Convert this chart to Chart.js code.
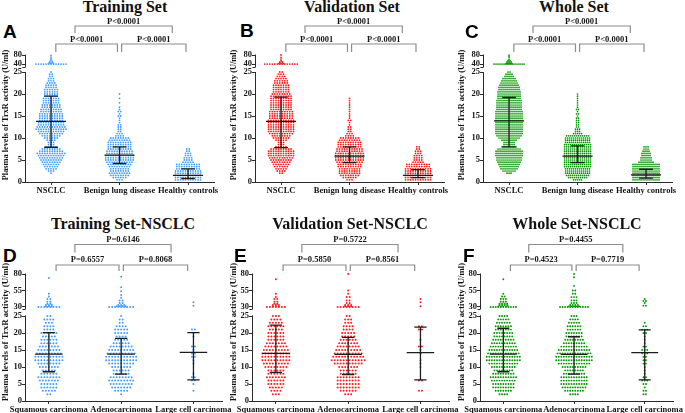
<!DOCTYPE html>
<html><head><meta charset="utf-8">
<script src="https://cdn.jsdelivr.net/npm/chart.js@4.4.1/dist/chart.umd.min.js"></script>
<style>
html,body{margin:0;padding:0;background:#fff;}
#wrap{position:relative;width:685px;height:413px;overflow:hidden;background:#fff;}
#wrap canvas{position:absolute;}
.ttl{position:absolute;font-family:"Liberation Serif",serif;font-weight:bold;font-size:16px;line-height:16px;white-space:nowrap;transform:translateX(-50%);color:#111;}
.ltr{position:absolute;font-family:"Liberation Sans",Arial,sans-serif;font-weight:bold;font-size:19px;line-height:19px;color:#000;}
</style></head>
<body><div id="wrap"></div>
<script>
// ---------------- DATA ----------------
const topCategories = ['NSCLC', 'Benign lung disease', 'Healthy controls'];
const bottomCategories = ['Squamous carcinoma', 'Adenocarcinoma', 'Large cell carcinoma'];
const topTickLabels = [0, 5, 10, 15, 20, 25, 40, 80];
const bottomTickLabels = [0, 5, 10, 15, 20, 25, 30, 55, 80];
const yAxisTitle = 'Plasma levels of TrxR activity (U/ml)';

// counts of dots per 0.5 U/ml row, starting at 0.5 (top panels)
const trainNSCLC = [0,0,0,1,3,5,6,7,8,9,10,11,12,10,8,5,3,3,4,6,8,10,11,13,12,11,11,10,10,10,10,9,9,8,8,7,7,7,6,6,6,6,5,5,4,3,3,2,2,1];
const trainNSCLCHigh = [[40,13],[43,3],[47,2],[52,2],[58,1],[63,1],[70,1],[78,1]];
const trainBenign = [3,6,8,9,8,8,9,10,11,12,12,12,11,11,10,10,10,10,9,8,4,3,2,2,2,2,1,1,1,2,1,2,1,1,0,1,0,1,0,1];
const trainHealthy = [11,11,11,11,11,10,10,10,5,4,4,3,3,2,2];

const validNSCLC = [0,0,0,2,4,5,6,7,8,9,10,11,11,11,9,5,3,3,5,7,8,10,11,11,11,11,11,11,10,10,10,10,9,9,9,9,9,9,9,8,7,7,7,7,6,6,5,4,3,2];
const validNSCLCHigh = [[40,14],[42,3],[46,2],[50,2],[55,1],[62,1],[70,1],[80,1]];
const validBenign = [3,6,8,9,9,9,10,10,11,12,12,12,12,11,11,10,10,10,9,8,4,3,2,2,2,1,1,2,1,1,1,1,1,1,1,1,1,1];
const validHealthy = [11,11,11,11,11,11,10,10,5,4,4,4,3,3,2,2];

const wholeNSCLC = [0,0,0,3,7,9,10,11,12,13,13,14,14,14,12,8,6,6,8,11,13,14,14,14,14,14,14,14,14,14,14,14,13,13,13,13,13,12,12,12,12,11,11,10,9,8,7,5,4,2];
const wholeNSCLCHigh = [[40,16],[42,4],[45,3],[50,3],[55,2],[60,1],[68,1],[75,1],[80,1]];
const wholeBenign = [5,10,12,13,13,13,14,14,14,14,14,14,14,14,14,14,14,13,13,13,12,5,3,3,2,2,2,2,2,1,2,1,2,1,1,1,1,1,1,1];
const wholeHealthy = [14,14,14,14,14,14,14,14,8,6,6,5,5,4,3,3];

// counts of dots per 1 U/ml row, starting at 1 (bottom panels)
const trainSq = [0,2,5,6,6,7,8,6,5,7,8,10,10,9,8,7,6,6,5,6,4,4,3,4,2];
const trainSqHigh = [[30,8],[31,3],[33,3],[35,2],[38,2],[42,2],[46,1],[50,1],[74,1]];
const trainAd = [0,1,5,7,8,9,8,6,6,7,9,11,11,10,9,8,6,5,4,5,5,4,2,2,1];
const trainAdHigh = [[30,9],[31,4],[33,3],[36,2],[40,2],[44,1],[48,1],[54,1],[60,1],[76,1]];
const trainLc = [0,0,1,0,1,2,2,1,0,0,1,1,2,2,1,2,0,0,1,1,2];
const trainLcHigh = [[32,1],[37,1]];

const validSq = [0,3,4,5,6,6,7,6,6,8,9,10,10,10,9,8,7,6,6,6,5,6,5,4,3];
const validSqHigh = [[30,7],[31,3],[33,3],[35,2],[38,2],[42,2],[45,1],[50,1],[72,1]];
const validAd = [0,3,6,8,8,8,8,6,6,7,10,12,11,10,9,8,7,6,5,5,4,4,3,3,2];
const validAdHigh = [[30,8],[31,3],[33,3],[36,2],[40,2],[45,2],[50,1],[55,1],[80,1]];
const validLc = [0,0,2,0,0,2,0,0,0,1,1,1,0,1,1,2,0,1,0,0,2,2];
const validLcHigh = [[31,1],[37,1],[42,1]];

const wholeSq = [0,4,7,9,9,10,11,9,8,10,12,14,14,13,12,11,10,9,8,8,7,7,6,5,4];
const wholeSqHigh = [[30,11],[31,5],[33,4],[35,4],[38,3],[42,3],[46,2],[50,1],[72,1]];
const wholeAd = [0,4,8,10,11,11,11,9,8,10,13,15,15,14,13,11,9,8,7,7,6,6,5,4,3];
const wholeAdHigh = [[30,12],[31,5],[33,4],[36,3],[40,3],[45,3],[50,2],[55,2],[62,1],[75,1],[80,1]];
const wholeLc = [0,2,2,1,2,3,2,1,1,1,2,2,2,3,3,2,1,1,1,2,3,2,1];
const wholeLcHigh = [[32,2],[36,1],[39,2],[42,1]];

// [mean, lower bar, upper bar]
const trainStats = [[13.8,7.9,19.5],[6.1,4.2,8.0],[1.5,0.8,3.0]];
const validStats = [[13.8,7.8,19.3],[5.9,4.4,8.0],[1.5,1.0,2.8]];
const wholeStats = [[13.9,8.0,19.2],[5.9,4.4,8.2],[1.6,0.9,2.9]];
const trainNscStats = [[13.8,8.6,20.1],[13.8,7.9,18.4],[14.3,6.2,20.1]];
const validNscStats = [[14.0,8.4,22.3],[13.7,7.8,18.7],[14.2,6.2,21.7]];
const wholeNscStats = [[13.8,8.6,21.4],[13.7,7.9,18.9],[14.2,6.2,20.9]];

// P values: [outer, left pair, right pair]
const trainP = ['P<0.0001','P<0.0001','P<0.0001'];
const validP = ['P<0.0001','P<0.0001','P<0.0001'];
const wholeP = ['P<0.0001','P<0.0001','P<0.0001'];
const trainNscP = ['P=0.6146','P=0.6557','P=0.8068'];
const validNscP = ['P=0.5722','P=0.5850','P=0.8561'];
const wholeNscP = ['P=0.4455','P=0.4523','P=0.7719'];

// ---------------- LAYOUT ----------------
const BLUE = 'rgb(66,157,255)', RED = 'rgb(255,28,28)', GREEN = 'rgb(0,150,0)';
const AXIS = '#2a2a2a', TEXT = '#141414', BRK = '#8c8c8c';
const mapTop = v => v <= 25 ? v : 26.8 + (v - 40) * 0.0515;
const mapBottom = v => v <= 25 ? v : 27.65 + (v - 30) * 0.194;

const ROWS = {
  top: {canvasTop: 0, H: 205, zeroY: 182, ppu: 4.4, yMax: 29.5, xMin: -0.38, xMax: 2.38, catPx: 68.5,
        ticks: topTickLabels, cats: topCategories, map: mapTop, lowerTop: 25, upperBottom: 26.1, upperTopV: 80,
        start: 0.5, step: 0.5, meanHalf: 0.22, capHalf: 0.1, yTitleY: 115, yTitleSize: 8.3,
        brackets: [{a:0.35,b:1.77,y:26,d:7,ly:21.5},{a:0.07,b:0.97,y:44,d:8,ly:40},{a:1.03,b:1.97,y:44,d:8,ly:40}]},
  bottom: {canvasTop: 200, H: 213, zeroY: 201, ppu: 3.4, yMax: 37.8, xMin: -0.33, xMax: 2.4, catPx: 72.3,
        ticks: bottomTickLabels, cats: bottomCategories, map: mapBottom, lowerTop: 25.2, upperBottom: 27.0, upperTopV: 80,
        start: 1, step: 1, meanHalf: 0.19, capHalf: 0.085, yTitleY: 132, yTitleSize: 8.8,
        brackets: [{a:0.36,b:1.69,y:44.5,d:8,ly:40},{a:0.1,b:0.97,y:65,d:6,ly:59.5},{a:1.03,b:1.92,y:65,d:6,ly:59.5}]}
};

const panels = [
  {letter:'A', lx:3, ly:22, title:'Training Set', tx:125, row:'top', left:0, W:240, axisX:25, color:BLUE, dx:2.5, r:0.9,
   groups:[[trainNSCLC,trainNSCLCHigh],[trainBenign,[]],[trainHealthy,[]]], stats:trainStats, p:trainP},
  {letter:'B', lx:240, ly:21, title:'Validation Set', tx:352, row:'top', left:228, W:240, axisX:255, color:RED, dx:2.5, r:0.9,
   groups:[[validNSCLC,validNSCLCHigh],[validBenign,[]],[validHealthy,[]]], stats:validStats, p:validP},
  {letter:'C', lx:465, ly:22, title:'Whole Set', tx:574, row:'top', left:456, W:229, axisX:483, color:GREEN, dx:2.0, r:0.85,
   groups:[[wholeNSCLC,wholeNSCLCHigh],[wholeBenign,[]],[wholeHealthy,[]]], stats:wholeStats, p:wholeP},
  {letter:'D', lx:3, ly:246, title:'Training Set-NSCLC', tx:123, row:'bottom', left:0, W:240, axisX:25, color:BLUE, dx:3.0, r:1.0,
   groups:[[trainSq,trainSqHigh],[trainAd,trainAdHigh],[trainLc,trainLcHigh]], stats:trainNscStats, p:trainNscP},
  {letter:'E', lx:234, ly:246, title:'Validation Set-NSCLC', tx:350, row:'bottom', left:228, W:240, axisX:252, color:RED, dx:3.0, r:1.0,
   groups:[[validSq,validSqHigh],[validAd,validAdHigh],[validLc,validLcHigh]], stats:validNscStats, p:validNscP},
  {letter:'F', lx:463, ly:246, title:'Whole Set-NSCLC', tx:577, row:'bottom', left:456, W:229, axisX:480, color:GREEN, dx:2.6, r:0.95,
   groups:[[wholeSq,wholeSqHigh],[wholeAd,wholeAdHigh],[wholeLc,wholeLcHigh]], stats:wholeNscStats, p:wholeNscP}
];

const wrap = document.getElementById('wrap');

function buildDots(p, row) {
  const dxU = p.dx / row.catPx, pts = [];
  p.groups.forEach(([counts, high], c) => {
    const add = (v, n) => { for (let i = 0; i < n; i++) pts.push({x: c + (i - (n - 1) / 2) * dxU, y: row.map(v)}); };
    counts.forEach((n, i) => { if (n > 0) add(row.start + i * row.step, n); });
    high.forEach(([v, n]) => add(v, n));
  });
  return pts;
}
function buildBars(p, row) {
  const pts = [];
  p.stats.forEach(([m, lo, hi], c) => {
    pts.push({x:c-row.meanHalf,y:row.map(m)},{x:c+row.meanHalf,y:row.map(m)},{x:c,y:null});
    pts.push({x:c,y:row.map(lo)},{x:c,y:row.map(hi)},{x:c,y:null});
    pts.push({x:c-row.capHalf,y:row.map(hi)},{x:c+row.capHalf,y:row.map(hi)},{x:c,y:null});
    pts.push({x:c-row.capHalf,y:row.map(lo)},{x:c+row.capHalf,y:row.map(lo)},{x:c,y:null});
  });
  return pts;
}

const tickFont = {family: 'Liberation Serif', weight: 'bold', size: 8.5};

panels.forEach(p => {
  const row = ROWS[p.row];
  const t = document.createElement('div');
  t.className = 'ttl'; t.textContent = p.title;
  t.style.left = p.tx + 'px'; t.style.top = (row.canvasTop + (p.row === 'top' ? -1.4 : 15.6)) + 'px';
  wrap.appendChild(t);
  const l = document.createElement('div');
  l.className = 'ltr'; l.textContent = p.letter;
  l.style.left = p.lx + 'px'; l.style.top = p.ly + 'px';
  wrap.appendChild(l);

  const cv = document.createElement('canvas');
  cv.width = p.W; cv.height = row.H;
  cv.style.left = p.left + 'px'; cv.style.top = row.canvasTop + 'px';
  cv.style.width = p.W + 'px'; cv.style.height = row.H + 'px';
  wrap.appendChild(cv);

  const yW = p.axisX - p.left;
  const chartTop = row.zeroY - row.yMax * row.ppu;
  const chartW = (row.xMax - row.xMin) * row.catPx;
  const padR = p.W - yW - chartW;

  const deco = {
    id: 'deco' + p.letter,
    afterDraw(chart) {
      const ctx = chart.ctx, xs = chart.scales.x, ys = chart.scales.y, ca = chart.chartArea;
      ctx.save();
      const ax = Math.round(ca.left) + 0.5;
      ctx.strokeStyle = AXIS; ctx.lineWidth = 1;
      ctx.beginPath();
      ctx.moveTo(ax, ys.getPixelForValue(0) + 0.5); ctx.lineTo(ax, ys.getPixelForValue(row.lowerTop));
      const ub = ys.getPixelForValue(row.upperBottom);
      ctx.moveTo(ax, ub); ctx.lineTo(ax, ys.getPixelForValue(row.map(row.upperTopV)) - 0.5);
      ctx.moveTo(ax - 3, Math.round(ub) + 0.5); ctx.lineTo(ax, Math.round(ub) + 0.5);
      ctx.stroke();
      ctx.strokeStyle = BRK; ctx.lineWidth = 1.2;
      ctx.fillStyle = TEXT; ctx.font = 'bold 8.5px "Liberation Serif"';
      ctx.textAlign = 'center'; ctx.textBaseline = 'middle';
      row.brackets.forEach((b, i) => {
        const x1 = xs.getPixelForValue(b.a), x2 = xs.getPixelForValue(b.b);
        ctx.beginPath();
        ctx.moveTo(x1, b.y + b.d); ctx.lineTo(x1, b.y); ctx.lineTo(x2, b.y); ctx.lineTo(x2, b.y + b.d);
        ctx.stroke();
        ctx.fillText(p.p[i], (x1 + x2) / 2, b.ly);
      });
      ctx.translate(6, row.yTitleY);
      ctx.rotate(-Math.PI / 2);
      ctx.font = 'bold ' + row.yTitleSize + 'px "Liberation Serif"';
      ctx.fillText(yAxisTitle, 0, 0);
      ctx.restore();
    }
  };

  new Chart(cv, {
    type: 'scatter',
    data: {datasets: [
      {data: buildBars(p, row), showLine: true, spanGaps: false, borderColor: '#1c1c1c', borderWidth: 1.3,
       pointRadius: 0, pointHoverRadius: 0, fill: false, order: 0},
      {data: buildDots(p, row), pointRadius: p.r, pointHoverRadius: p.r, backgroundColor: p.color,
       borderWidth: 0, pointBorderWidth: 0, order: 1}
    ]},
    options: {
      responsive: false, animation: false, events: [],
      layout: {autoPadding: false, padding: {left: 0, top: chartTop, right: padR, bottom: 0}},
      plugins: {legend: {display: false}, tooltip: {enabled: false}, title: {display: false}},
      scales: {
        x: {type: 'linear', min: row.xMin, max: row.xMax,
            afterFit: s => { s.height = row.H - row.zeroY; },
            afterBuildTicks: s => { s.ticks = [0, 1, 2].map(v => ({value: v})); },
            ticks: {callback: (v, i) => row.cats[i], autoSkip: false, maxRotation: 0, minRotation: 0,
                    padding: 1, color: TEXT, font: tickFont},
            grid: {drawOnChartArea: false, drawTicks: true, tickLength: 3, color: AXIS},
            border: {display: true, color: AXIS, width: 1}},
        y: {type: 'linear', min: 0, max: row.yMax,
            afterFit: s => { s.width = yW; },
            afterBuildTicks: s => { s.ticks = row.ticks.map(v => ({value: row.map(v)})); },
            ticks: {callback: (v, i) => String(row.ticks[i]), autoSkip: false, padding: 0, color: TEXT, font: tickFont},
            grid: {drawOnChartArea: false, drawTicks: true, tickLength: 3, color: AXIS},
            border: {display: false}}
      }
    },
    plugins: [deco]
  });
});
</script>
</body></html>
